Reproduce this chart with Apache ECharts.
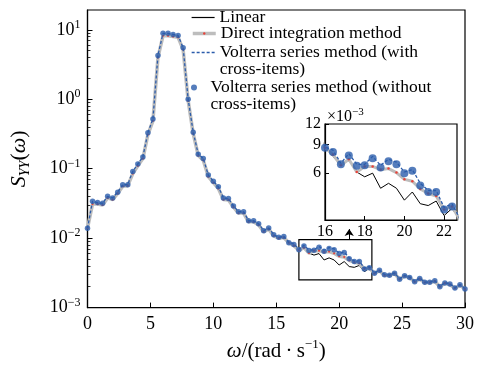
<!DOCTYPE html>
<html>
<head>
<meta charset="utf-8">
<script src="https://cdn.jsdelivr.net/npm/echarts@6/dist/echarts.min.js"></script>
<style>
  html, body { margin: 0; padding: 0; background: #fff; }
  #chart { width: 477px; height: 367px; }
</style>
</head>
<body>
<div id="chart"></div>
<script>
// frequency grid (rad/s)
const omega = [0, 0.4, 0.8, 1.2, 1.6, 2, 2.4, 2.8, 3.2, 3.6, 4, 4.4, 4.8, 5.2, 5.6, 6, 6.4, 6.8, 7.2, 7.6,
  8, 8.4, 8.8, 9.2, 9.6, 10, 10.4, 10.8, 11.2, 11.6, 12, 12.4, 12.8, 13.2, 13.6, 14, 14.4, 14.8, 15.2, 15.6,
  16, 16.4, 16.8, 17.2, 17.6, 18, 18.4, 18.8, 19.2, 19.6, 20, 20.4, 20.8, 21.2, 21.6, 22, 22.4, 22.8, 23.2, 23.6,
  24, 24.4, 24.8, 25.2, 25.6, 26, 26.4, 26.8, 27.2, 27.6, 28, 28.4, 28.8, 29.2, 29.6, 30]

// S_YY(omega) for each method
const linear = [0.0139, 0.031, 0.031, 0.030, 0.038, 0.036, 0.044, 0.056, 0.057, 0.085,
  0.11, 0.14, 0.31, 0.49, 4.0, 8.2, 8.2, 8.0, 7.8, 5.2,
  0.95, 0.32, 0.155, 0.132, 0.077, 0.063, 0.052, 0.036, 0.0355, 0.028,
  0.023, 0.023, 0.0172, 0.0172, 0.0155, 0.0124, 0.0135, 0.0108, 0.0100, 0.0102,
  0.0086, 0.0076, 0.0068, 0.0073, 0.0061, 0.0057, 0.0060, 0.00485, 0.0052, 0.00485,
  0.0041, 0.0046, 0.0039, 0.0038, 0.00405, 0.0033, 0.00365, 0.0031, 0.0033, 0.0029,
  0.00285, 0.0030, 0.0025, 0.0028, 0.0026, 0.0023, 0.0025, 0.0022, 0.0023, 0.0024,
  0.00195, 0.0022, 0.0021, 0.0019, 0.0021, 0.0018]

const direct = [0.0139, 0.031, 0.031, 0.030, 0.038, 0.036, 0.044, 0.056, 0.057, 0.085,
  0.11, 0.14, 0.31, 0.49, 4.0, 8.2, 8.2, 8.0, 7.8, 5.2,
  0.95, 0.32, 0.155, 0.132, 0.077, 0.063, 0.052, 0.036, 0.0355, 0.028,
  0.023, 0.023, 0.0172, 0.0172, 0.0155, 0.0124, 0.0135, 0.0108, 0.0100, 0.0102,
  0.0086, 0.0078, 0.0067, 0.0073, 0.0061, 0.0066, 0.0066, 0.0063, 0.0064, 0.00605,
  0.0055, 0.00535, 0.0048, 0.0045, 0.00435, 0.0036, 0.00375, 0.0031, 0.0034, 0.0029,
  0.0029, 0.0031, 0.00255, 0.00285, 0.0027, 0.00235, 0.0026, 0.0023, 0.0023, 0.0024,
  0.0020, 0.00225, 0.00215, 0.0019, 0.0021, 0.00185]

const volterraCross = [0.0139, 0.034, 0.0325, 0.0318, 0.040, 0.038, 0.046, 0.059, 0.059, 0.092,
  0.117, 0.148, 0.33, 0.52, 4.3, 8.9, 8.9, 8.6, 8.3, 5.5,
  1.0, 0.336, 0.162, 0.140, 0.081, 0.066, 0.055, 0.038, 0.0373, 0.029,
  0.0241, 0.0241, 0.0178, 0.0178, 0.0161, 0.0128, 0.014, 0.0112, 0.0103, 0.0106,
  0.0087, 0.0083, 0.0069, 0.0079, 0.0068, 0.0068, 0.0076, 0.0067, 0.0073, 0.0070,
  0.0061, 0.0063, 0.0052, 0.0047, 0.0047, 0.0037, 0.0039, 0.00315, 0.00345, 0.0030,
  0.00295, 0.00315, 0.0026, 0.0029, 0.00275, 0.0024, 0.00265, 0.00233, 0.00233, 0.00245,
  0.00202, 0.00228, 0.0022, 0.00193, 0.00215, 0.00187]

const volterraNoCross = [0.0139, 0.034, 0.0325, 0.0318, 0.040, 0.038, 0.046, 0.059, 0.059, 0.0915,
  0.117, 0.148, 0.329, 0.52, 4.28, 8.9, 8.9, 8.6, 8.3, 5.5,
  1.0, 0.336, 0.162, 0.140, 0.081, 0.066, 0.055, 0.038, 0.0373, 0.029,
  0.0241, 0.0241, 0.0178, 0.0178, 0.0161, 0.0128, 0.014, 0.0112, 0.0103, 0.0106,
  0.0086, 0.0081, 0.0068, 0.0077, 0.00665, 0.0067, 0.0074, 0.0065, 0.0071, 0.0068,
  0.0060, 0.0062, 0.00505, 0.0046, 0.0046, 0.0036, 0.00375, 0.00313, 0.00345, 0.00296,
  0.00293, 0.00313, 0.00257, 0.00287, 0.00272, 0.00236, 0.00263, 0.00231, 0.00231, 0.00244,
  0.0020, 0.00226, 0.00219, 0.00191, 0.00214, 0.00185]

// axes
const xTicks = [0, 5, 10, 15, 20, 25, 30]
const yDecades = [-3, -2, -1, 0, 1]
const yMinorTicks = [0.002, 0.003, 0.004, 0.005, 0.006, 0.007, 0.008, 0.009,
  0.02, 0.03, 0.04, 0.05, 0.06, 0.07, 0.08, 0.09,
  0.2, 0.3, 0.4, 0.5, 0.6, 0.7, 0.8, 0.9,
  2, 3, 4, 5, 6, 7, 8, 9]
const yTop = 19.3

// inset (zoomed region)
const insetOmega = [16, 22.65]
const insetS = [0.0031, 0.012]
const insetYTicks = [0.006, 0.009, 0.012]
const boxOmega = [16.8, 22.6]
const boxS = [0.0025, 0.0095]
const arrowOmega = 20.8
const arrowS = [0.0095, 0.0135]

const names = [
  'Linear',
  'Direct integration method',
  'Volterra series method (with cross-items)',
  'Volterra series method (without cross-items)'
]

const FONT = 'Liberation Serif'
const BLUE = '#2b5cab'
const lg = Math.log10

const toPts = arr => arr.map((v, i) => [omega[i], lg(v)])

const chart = echarts.init(document.getElementById('chart'))

const supRich = {
  b: { fontFamily: FONT, fontSize: 18, lineHeight: 22, color: '#000' },
  s: { fontFamily: FONT, fontSize: 12, lineHeight: 12, verticalAlign: 'top', color: '#000' }
}
const minus = v => (v < 0 ? '\u2212' + (-v) : '' + v)

function makeSeries(inset) {
  const xi = inset ? 1 : 0
  const yi = inset ? 2 : 0
  const list = [
    {
      name: names[0], type: 'line', xAxisIndex: xi, yAxisIndex: yi,
      data: toPts(linear), symbol: 'none', clip: true,
      lineStyle: { color: '#000', width: 1 }, itemStyle: { color: '#000' }, z: 2
    },
    {
      name: names[1], type: 'line', xAxisIndex: xi, yAxisIndex: yi,
      data: toPts(direct), symbol: 'circle', symbolSize: inset ? 2.5 : 2.2,
      showSymbol: true, showAllSymbol: true, clip: true,
      lineStyle: { color: '#bdbdbd', width: inset ? 3 : 3.5 },
      itemStyle: { color: '#e8443a' }, z: 3
    },
    {
      name: names[2], type: 'line', xAxisIndex: xi, yAxisIndex: yi,
      data: toPts(volterraCross), symbol: 'none', clip: true,
      lineStyle: { color: BLUE, width: 1.3, type: [3, 2] }, itemStyle: { color: BLUE }, z: 4
    },
    {
      name: names[3], type: 'scatter', xAxisIndex: xi, yAxisIndex: yi,
      data: toPts(volterraNoCross), symbol: 'circle', symbolSize: inset ? 8 : 5.5,
      clip: true, itemStyle: { color: BLUE }, z: 5
    }
  ]
  if (!inset) {
    // zoom box and arrow pointing to inset
    list[0].markArea = {
      silent: true,
      itemStyle: { color: 'rgba(0,0,0,0)', borderColor: '#000', borderWidth: 1.2 },
      data: [[{ coord: [boxOmega[0], lg(boxS[1])] }, { coord: [boxOmega[1], lg(boxS[0])] }]]
    }
    list[0].markLine = {
      silent: true, symbol: ['none', 'arrow'], symbolSize: 7,
      label: { show: false },
      lineStyle: { color: '#000', width: 1, type: 'solid' },
      data: [[{ coord: [arrowOmega, lg(arrowS[0])] }, { coord: [arrowOmega, lg(arrowS[1])] }]]
    }
  }
  return list
}

const legendBase = {
  left: 191, padding: 0, orient: 'vertical', selectedMode: false,
  itemWidth: 23,
  textStyle: { fontFamily: FONT, fontSize: 17.5, lineHeight: 17, color: '#000' }
}

const option = {
  animation: false,
  backgroundColor: '#fff',
  grid: [
    { left: 87, right: 12, top: 10, bottom: 56, show: true, borderColor: '#000', borderWidth: 1.2 },
    { left: 325, top: 124, width: 132, height: 96, show: true, backgroundColor: '#fff',
      borderColor: '#000', borderWidth: 1.2 }
  ],
  legend: [
    Object.assign({}, legendBase, { top: 8.5, data: [names[0]], itemHeight: 2,
      itemStyle: { opacity: 0 }, lineStyle: { width: 1.2 } }),
    Object.assign({}, legendBase, { top: 24.5, data: [names[1]], itemHeight: 3,
      lineStyle: { width: 3.5 } }),
    Object.assign({}, legendBase, { top: 26.5, data: [names[2]], itemHeight: 2,
      itemStyle: { opacity: 0 }, lineStyle: { width: 1.3 },
      formatter: () => ' \nVolterra series method (with\ncross-items)' }),
    Object.assign({}, legendBase, { top: 61.5, data: [names[3]], itemHeight: 6,
      formatter: () => ' \nVolterra series method (without\ncross-items)' })
  ],
  xAxis: [
    {
      type: 'value', gridIndex: 0, min: xTicks[0], max: xTicks[xTicks.length - 1], interval: 5,
      name: '{i|\u03c9}{n|/(rad\u2009\u00b7\u2009s}{s|\u22121}{n|)}',
      nameLocation: 'middle', nameGap: 30,
      nameTextStyle: {
        rich: {
          i: { fontFamily: FONT, fontSize: 21, fontStyle: 'italic', lineHeight: 26, color: '#000' },
          n: { fontFamily: FONT, fontSize: 21, lineHeight: 26, color: '#000' },
          s: { fontFamily: FONT, fontSize: 13, lineHeight: 13, verticalAlign: 'top', color: '#000' }
        }
      },
      axisLine: { onZero: false, lineStyle: { color: '#000', width: 1.2 } },
      axisTick: { inside: true, length: 5, lineStyle: { color: '#000', width: 1 } },
      axisLabel: { fontFamily: FONT, fontSize: 18, color: '#000', margin: 8 },
      splitLine: { show: false }
    },
    {
      type: 'value', gridIndex: 1, min: insetOmega[0], max: insetOmega[1], interval: 2,
      axisLine: { onZero: false, lineStyle: { color: '#000', width: 1.2 } },
      axisTick: { inside: true, length: 4, lineStyle: { color: '#000' } },
      axisLabel: { fontFamily: FONT, fontSize: 16, color: '#000', margin: 4, showMaxLabel: false },
      splitLine: { show: false }
    }
  ],
  yAxis: [
    {
      type: 'value', gridIndex: 0, min: yDecades[0], max: lg(yTop), interval: 1,
      name: '{i|S}{sub|YY}{n|(}{i|\u03c9}{n|)}',
      nameLocation: 'middle', nameRotate: 90, nameGap: 55,
      nameTextStyle: {
        rich: {
          i: { fontFamily: FONT, fontSize: 22, fontStyle: 'italic', lineHeight: 27, color: '#000' },
          n: { fontFamily: FONT, fontSize: 22, lineHeight: 27, color: '#000' },
          sub: { fontFamily: FONT, fontSize: 14, fontStyle: 'italic', lineHeight: 13,
            verticalAlign: 'bottom', color: '#000' }
        }
      },
      axisLine: { onZero: false, lineStyle: { color: '#000', width: 1.2 } },
      axisTick: { inside: true, length: 5, lineStyle: { color: '#000', width: 1 } },
      axisLabel: {
        margin: 7, showMaxLabel: false, rich: supRich,
        formatter: v => (yDecades.includes(v) ? '{b|10}{s|' + minus(v) + '}' : '')
      },
      splitLine: { show: false }
    },
    {
      // minor ticks of the log axis
      type: 'value', gridIndex: 0, position: 'left', min: yDecades[0], max: lg(yTop),
      axisLine: { show: false, onZero: false },
      axisTick: { inside: true, length: 3, customValues: yMinorTicks.map(lg),
        lineStyle: { color: '#000', width: 0.8 } },
      axisLabel: { show: false },
      splitLine: { show: false }
    },
    {
      type: 'value', gridIndex: 1, min: lg(insetS[0]), max: lg(insetS[1]),
      name: '{t|\u00d710}{s|\u22123}', nameLocation: 'end', nameGap: -2,
      nameTextStyle: {
        align: 'left', padding: [0, 0, 0, 2],
        rich: {
          t: { fontFamily: FONT, fontSize: 16, lineHeight: 19, color: '#000' },
          s: { fontFamily: FONT, fontSize: 11, lineHeight: 11, verticalAlign: 'top', color: '#000' }
        }
      },
      axisLine: { onZero: false, lineStyle: { color: '#000', width: 1.2 } },
      axisTick: { inside: true, length: 4, customValues: insetYTicks.map(lg),
        lineStyle: { color: '#000' } },
      axisLabel: {
        fontFamily: FONT, fontSize: 16, color: '#000', margin: 4,
        customValues: insetYTicks.map(lg),
        formatter: v => Math.round(Math.pow(10, v) * 1000)
      },
      splitLine: { show: false }
    }
  ],
  series: makeSeries(false).concat(makeSeries(true))
}

chart.setOption(option)
</script>
</body>
</html>
